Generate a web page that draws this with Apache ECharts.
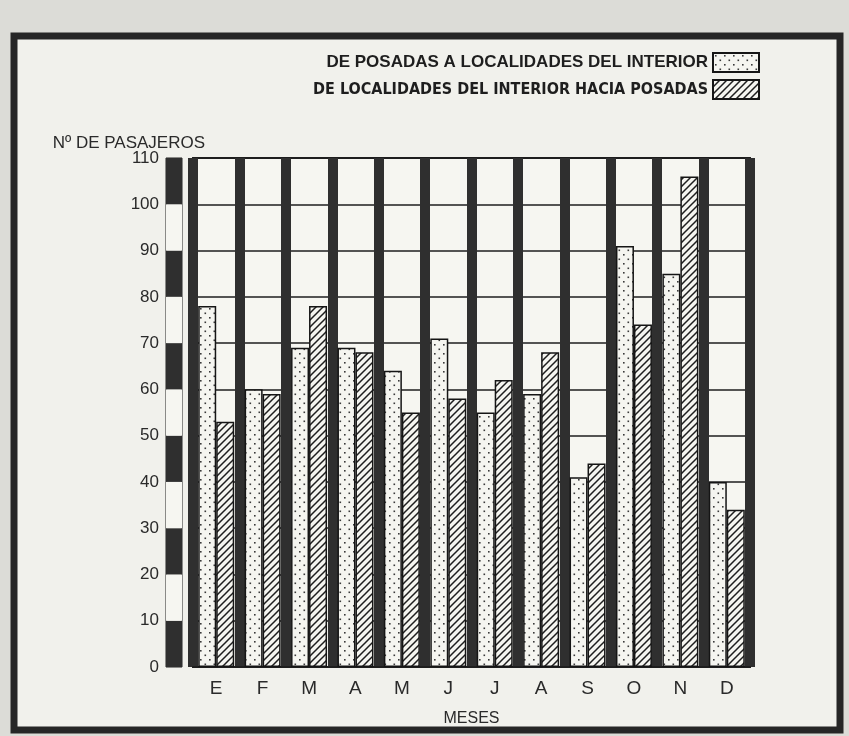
<!DOCTYPE html>
<html><head><meta charset="utf-8">
<script src="https://cdn.jsdelivr.net/npm/echarts@6/dist/echarts.min.js"></script>
<style>html,body{margin:0;padding:0;background:#dcdcd7}#c{width:849px;height:736px}</style>
</head><body><div id="c"></div>
<script>
// ---- data ----
const months = ['E','F','M','A','M','J','J','A','S','O','N','D'];
const seriesNames = ['DE POSADAS A LOCALIDADES DEL INTERIOR', 'DE LOCALIDADES DEL INTERIOR HACIA POSADAS'];
const fromPosadas = [78, 60, 69, 69, 64, 71, 55, 59, 41, 91, 85, 40];
const toPosadas   = [53, 59, 78, 68, 55, 58, 62, 68, 44, 74, 106, 34];
const yMin = 0, yMax = 110, yStep = 10;
const yName = 'Nº DE PASAJEROS';
const xName = 'MESES';

// ---- fill patterns ----
function dotPattern() {
  const c = document.createElement('canvas'); c.width = 9; c.height = 9;
  const g = c.getContext('2d');
  g.fillStyle = '#f5f5f0'; g.fillRect(0, 0, 9, 9);
  g.fillStyle = '#3a3a3a';
  g.fillRect(2, 2, 1.6, 1.6); g.fillRect(6.5, 6.5, 1.6, 1.6);
  return c;
}
function hatchPattern() {
  const c = document.createElement('canvas'); c.width = 7; c.height = 7;
  const g = c.getContext('2d');
  g.fillStyle = '#f5f5f0'; g.fillRect(0, 0, 7, 7);
  g.strokeStyle = '#1e1e1e'; g.lineWidth = 1.5;
  g.beginPath();
  g.moveTo(-1, 8); g.lineTo(8, -1);
  g.moveTo(-1, 1); g.lineTo(1, -1);
  g.moveTo(6, 8); g.lineTo(8, 6);
  g.stroke();
  return c;
}
const dotFill = { image: dotPattern(), repeat: 'repeat' };
const hatchFill = { image: hatchPattern(), repeat: 'repeat' };

const FONT = "'Liberation Sans', Arial, sans-serif";
const NARROW = "'Liberation Sans Narrow', 'DejaVu Sans Condensed', " + FONT;
const chart = echarts.init(document.getElementById('c'), null, { renderer: 'canvas' });
chart.setOption({
  backgroundColor: '#dcdcd7',
  animation: false,
  graphic: [{
    type: 'rect', z: -10,
    shape: { x: 14, y: 36, width: 826, height: 694 },
    style: { fill: '#f1f1ec', stroke: '#262626', lineWidth: 7 }
  }, {
    type: 'text', z: 10, x: 205, y: 143,
    style: { text: yName, font: "17px " + FONT, fill: '#2a2a2a', align: 'right', verticalAlign: 'middle' }
  }],
  legend: {
    orient: 'vertical', right: 84, top: 47, align: 'right', icon: 'rect',
    itemWidth: 46, itemHeight: 19, itemGap: 6,
    textStyle: { fontSize: 17, fontFamily: FONT, color: '#1e1e1e', fontWeight: 'bold' },
    data: [
      { name: seriesNames[0] },
      { name: seriesNames[1], textStyle: { fontFamily: NARROW, fontSize: 16 } }
    ]
  },
  grid: [
    { left: 193, right: 99, top: 158, bottom: 69, show: true, backgroundColor: '#f6f6f1', borderColor: '#222', borderWidth: 2 },
    { left: 166, width: 16, top: 158, bottom: 69, show: true, borderColor: '#222', borderWidth: 1 }
  ],
  xAxis: [{
    type: 'category', gridIndex: 0, data: months,
    axisTick: { show: false },
    axisLine: { show: true, lineStyle: { color: '#1e1e1e', width: 2 } },
    axisLabel: { fontSize: 19, fontFamily: FONT, color: '#2a2a2a', margin: 12 },
    splitLine: { show: true, lineStyle: { color: '#2f2f2f', width: 10 } },
    name: xName, nameLocation: 'middle', nameGap: 44,
    nameTextStyle: { fontSize: 16, fontFamily: FONT, color: '#2a2a2a' }
  }, {
    type: 'category', gridIndex: 1, data: [''], show: false
  }],
  yAxis: [{
    type: 'value', gridIndex: 0, min: yMin, max: yMax, interval: yStep,
    axisLabel: { show: false }, axisTick: { show: false }, axisLine: { show: false },
    splitLine: { show: true, lineStyle: { color: '#1e1e1e', width: 1.5 } }
  }, {
    type: 'value', gridIndex: 1, min: yMin, max: yMax, interval: yStep,
    axisLine: { show: false }, axisTick: { show: false },
    axisLabel: { fontSize: 17, fontFamily: FONT, color: '#2a2a2a', margin: 7 },
    splitLine: { show: false },
    splitArea: { show: true, areaStyle: { color: ['#2f2f2f', '#f6f6f1'] } }
  }],
  series: [{
    name: seriesNames[0], type: 'bar', xAxisIndex: 0, yAxisIndex: 0,
    data: fromPosadas, barWidth: 18, barGap: '0%',
    itemStyle: { color: dotFill, borderColor: '#151515', borderWidth: 1.5 }
  }, {
    name: seriesNames[1], type: 'bar', xAxisIndex: 0, yAxisIndex: 0,
    data: toPosadas, barWidth: 18, barGap: '0%',
    itemStyle: { color: hatchFill, borderColor: '#151515', borderWidth: 1.5 }
  }]
});
</script></body></html>
